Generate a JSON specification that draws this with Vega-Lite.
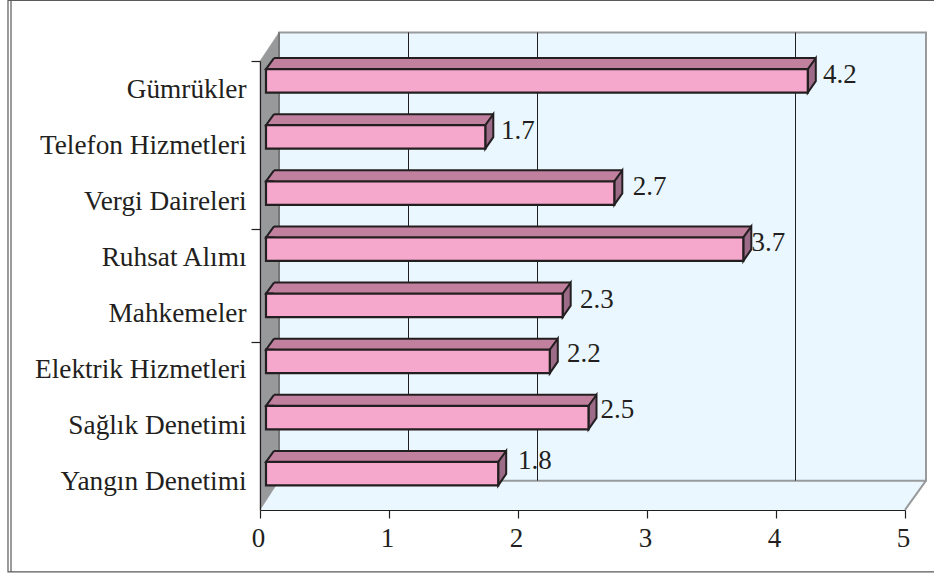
{
  "$schema": "https://vega.github.io/schema/vega-lite/v6.json",
  "width": 645,
  "height": 510,
  "padding": {"left": 260, "top": 0, "right": 29, "bottom": 64},
  "autosize": "none",
  "background": "white",
  "view": {"stroke": null},
  "config": {"text": {"font": "Liberation Serif"}},
  "data": {"values": [
    {"service": "Gümrükler", "value": 4.2, "labelAt": 4.364, "lift": "a"},
    {"service": "Telefon Hizmetleri", "value": 1.7, "labelAt": 1.868, "lift": "a"},
    {"service": "Vergi Daireleri", "value": 2.7, "labelAt": 2.89, "lift": "a"},
    {"service": "Ruhsat Alımı", "value": 3.7, "labelAt": 3.81, "lift": "a"},
    {"service": "Mahkemeler", "value": 2.3, "labelAt": 2.48, "lift": "a"},
    {"service": "Elektrik Hizmetleri", "value": 2.2, "labelAt": 2.38, "lift": "b"},
    {"service": "Sağlık Denetimi", "value": 2.5, "labelAt": 2.64, "lift": "b"},
    {"service": "Yangın Denetimi", "value": 1.8, "labelAt": 2.0, "lift": "c"}
  ]},
  "encoding": {
    "y": {
      "field": "service", "type": "nominal", "title": null,
      "scale": {"type": "band", "range": [61, 510], "paddingInner": 0, "paddingOuter": 0,
        "domain": ["Gümrükler", "Telefon Hizmetleri", "Vergi Daireleri", "Ruhsat Alımı", "Mahkemeler", "Elektrik Hizmetleri", "Sağlık Denetimi", "Yangın Denetimi"]},
      "axis": {
        "zindex": 1, "domainColor": "#231f20", "domainWidth": 1.2, "tickBand": "extent", "tickSize": 9, "tickWidth": 1.2,
        "tickColor": {"condition": {"test": "datum.extra || indexof(['Vergi Daireleri','Mahkemeler'], datum.value) >= 0", "value": "#231f20"}, "value": "transparent"},
        "labelFont": "Liberation Serif", "labelFontSize": 27.3, "labelColor": "#231f20", "labelPadding": 5, "labelLimit": 300, "labelFontWeight": "normal"
      }
    },
    "x": {
      "field": "value", "type": "quantitative", "title": null,
      "scale": {"domain": [0, 5], "nice": false, "zero": true},
      "axis": {
        "zindex": 1, "grid": false, "values": [0, 1, 2, 3, 4, 5], "format": "d", "domainColor": "#231f20", "domainWidth": 1.2, "tickColor": "#231f20", "tickWidth": 1.2, "tickSize": 8,
        "labelFont": "Liberation Serif", "labelFontSize": 27, "labelColor": "#231f20", "labelPadding": 7, "labelOffset": -2, "labelFlush": false, "labelOverlap": false
      }
    }
  },
  "layer": [
    {
      "data": {"values": [{"piece": "frame", "at": 0, "service": "Yangın Denetimi"}]},
      "mark": {"type": "point", "opacity": 1, "size": 4, "fill": "transparent", "stroke": "#5a5a5a", "strokeWidth": 1.2,
        "shape": "M674,-481.5 L-252,-481.5 L-252,90 L674,90 M-249,-481.5 L-249,90"},
      "encoding": {"x": {"field": "at", "type": "quantitative"}}
    },
    {
      "data": {"values": [{"piece": "floor", "at": 0, "service": "Yangın Denetimi"}]},
      "mark": {"type": "point", "opacity": 1, "size": 4, "fill": "#ebf7fe", "stroke": "#ebf7fe", "strokeWidth": 0.5,
        "shape": "M0,28 L19,-1.3 L666,-1.3 L645,28 Z"},
      "encoding": {"x": {"field": "at", "type": "quantitative"}}
    },
    {
      "data": {"values": [{"piece": "back wall", "at": 0, "service": "Yangın Denetimi"}]},
      "mark": {"type": "point", "opacity": 1, "size": 4, "fill": "#ebf7fe", "stroke": "#999a9c", "strokeWidth": 2,
        "shape": "M19,-1.3 L19,-449.5 L666,-449.5 L666,-1.3 L19,-1.3 M666,-1.3 L645,28"},
      "encoding": {"x": {"field": "at", "type": "quantitative"}}
    },
    {
      "data": {"values": [{"piece": "side wall", "at": 0, "service": "Yangın Denetimi"}]},
      "mark": {"type": "point", "opacity": 1, "size": 4, "fill": "#98999b", "stroke": "#98999b", "strokeWidth": 0.5,
        "shape": "M0,-421 L19,-449.5 L19,-1.3 L0,28 Z"},
      "encoding": {"x": {"field": "at", "type": "quantitative"}}
    },
    {
      "data": {"values": [{"piece": "edge", "at": 0, "service": "Yangın Denetimi"}]},
      "mark": {"type": "point", "opacity": 1, "size": 4, "fill": "transparent", "stroke": "#5f6062", "strokeWidth": 1.2,
        "shape": "M19,-449.5 L19,-1.3"},
      "encoding": {"x": {"field": "at", "type": "quantitative"}}
    },
    {
      "data": {"values": [{"at": 1, "service": "Yangın Denetimi"}, {"at": 2, "service": "Yangın Denetimi"}, {"at": 4, "service": "Yangın Denetimi"}]},
      "mark": {"type": "point", "opacity": 1, "size": 4, "fill": "transparent", "stroke": "#231f20", "strokeWidth": 1,
        "shape": "M19.5,-449.5 L19.5,-1.3"},
      "encoding": {"x": {"field": "at", "type": "quantitative"}}
    },
    {
      "mark": {"type": "bar", "size": 11, "xOffset": 14, "x2Offset": 14, "yOffset": -25.5, "fill": "#c2809f", "stroke": null},
      "encoding": {"x2": {"datum": 0}}
    },
    {
      "mark": {"type": "rule", "xOffset": 14, "x2Offset": 14, "yOffset": -31, "stroke": "#231f20", "strokeWidth": 2},
      "encoding": {"x2": {"datum": 0}}
    },
    {
      "mark": {"type": "point", "opacity": 1, "size": 4, "fill": "#c2809f", "stroke": "#231f20", "strokeWidth": 2,
        "shape": "M14,-20 L6,-20 L14,-31"},
      "encoding": {"x": {"datum": 0}}
    },
    {
      "mark": {"type": "point", "opacity": 1, "size": 4, "fill": "#9c6b87", "stroke": "#231f20", "strokeWidth": 2,
        "shape": "M6,-20 L14,-31 L14,-8 L6,3.5 Z"}
    },
    {
      "mark": {"type": "bar", "size": 23.5, "xOffset": 6, "x2Offset": 6, "yOffset": -8.25, "fill": "#f5a8cb", "stroke": "#231f20", "strokeWidth": 2.2},
      "encoding": {"x2": {"datum": 0}}
    },
    {
      "transform": [{"filter": "datum.lift === 'a'"}],
      "mark": {"type": "text", "align": "left", "baseline": "middle", "yOffset": -14, "fontSize": 27, "font": "Liberation Serif", "fill": "#231f20"},
      "encoding": {"x": {"field": "labelAt", "type": "quantitative"}, "text": {"field": "value", "type": "quantitative", "format": ".1f"}}
    },
    {
      "transform": [{"filter": "datum.lift === 'b'"}],
      "mark": {"type": "text", "align": "left", "baseline": "middle", "yOffset": -16, "fontSize": 27, "font": "Liberation Serif", "fill": "#231f20"},
      "encoding": {"x": {"field": "labelAt", "type": "quantitative"}, "text": {"field": "value", "type": "quantitative", "format": ".1f"}}
    },
    {
      "transform": [{"filter": "datum.lift === 'c'"}],
      "mark": {"type": "text", "align": "left", "baseline": "middle", "yOffset": -21, "fontSize": 27, "font": "Liberation Serif", "fill": "#231f20"},
      "encoding": {"x": {"field": "labelAt", "type": "quantitative"}, "text": {"field": "value", "type": "quantitative", "format": ".1f"}}
    }
  ]
}
